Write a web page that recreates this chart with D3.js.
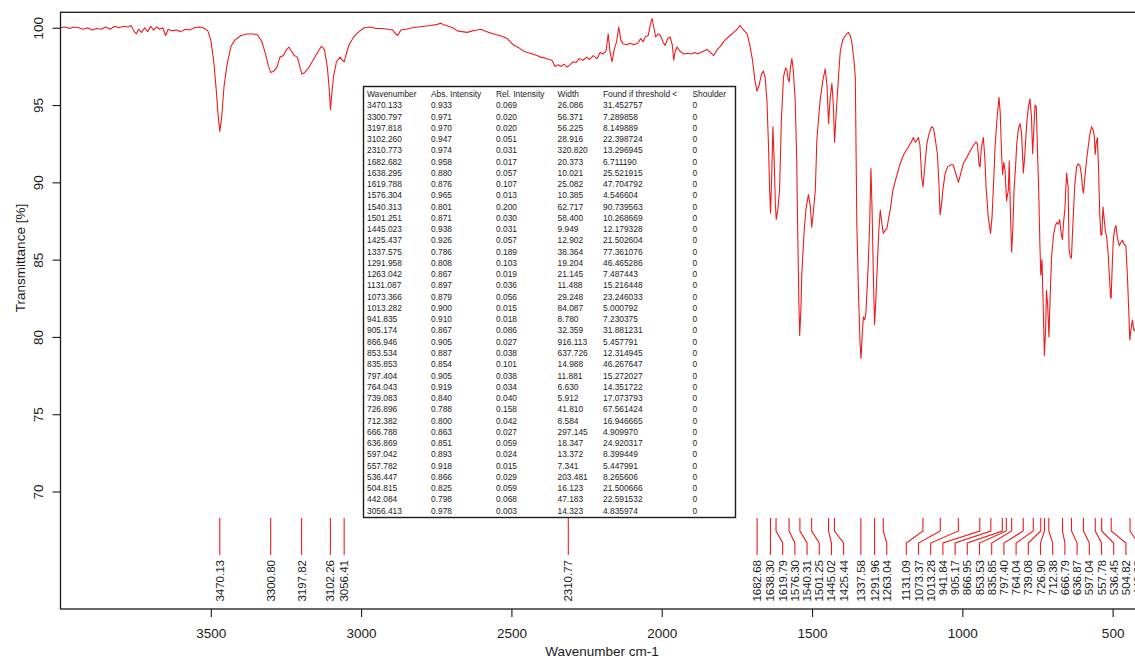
<!DOCTYPE html>
<html>
<head>
<meta charset="utf-8">
<script src="https://cdn.jsdelivr.net/npm/d3@7"></script>
<style>
  html, body { margin: 0; padding: 0; background: #fff; }
  svg { display: block; font-family: "Liberation Sans", Arial, Helvetica, sans-serif; }
</style>
</head>
<body>
<svg id="chart" width="1135" height="661"></svg>
<script>
// ---- IR spectrum: wavenumber (cm-1) and transmittance (%) ----
const wavenumber = [
  4000, 3985, 3970, 3955, 3940, 3925, 3910, 3895, 3880, 3865, 3850, 3835, 3820, 3805, 3790, 3775, 3765, 3755, 3748, 3740,
  3730, 3720, 3710, 3700, 3690, 3680, 3670, 3660, 3650, 3642, 3630, 3615, 3600, 3585, 3570, 3555, 3540, 3525, 3510, 3500,
  3490, 3482, 3476, 3470, 3464, 3456, 3446, 3433, 3420, 3400, 3380, 3360, 3345, 3330, 3318, 3308, 3300, 3290, 3280, 3270,
  3258, 3248, 3240, 3232, 3222, 3212, 3204, 3197, 3188, 3175, 3160, 3145, 3132, 3122, 3112, 3106, 3102, 3098, 3092, 3082,
  3070, 3062, 3056, 3048, 3040, 3025, 3010, 2990, 2970, 2950, 2930, 2910, 2895, 2885, 2878, 2868, 2850, 2830, 2810, 2790,
  2770, 2750, 2735, 2725, 2710, 2695, 2680, 2665, 2647, 2630, 2615, 2602, 2590, 2575, 2558, 2540, 2525, 2514, 2500, 2490,
  2475, 2460, 2447, 2430, 2415, 2403, 2390, 2375, 2365, 2355, 2345, 2335, 2325, 2315, 2305, 2295, 2285, 2275, 2262, 2250,
  2240, 2228, 2215, 2205, 2195, 2185, 2178, 2172, 2165, 2158, 2150, 2143, 2136, 2128, 2115, 2105, 2093, 2080, 2070, 2062,
  2055, 2045, 2038, 2032, 2026, 2020, 2012, 2004, 1996, 1989, 1980, 1972, 1965, 1960, 1955, 1949, 1940, 1927, 1915, 1900,
  1890, 1880, 1871, 1860, 1849, 1838, 1827, 1815, 1805, 1790, 1772, 1755, 1745, 1739, 1732, 1725, 1716, 1706, 1698, 1690,
  1683, 1676, 1668, 1662, 1656, 1650, 1645, 1641, 1638, 1634, 1630, 1626, 1622, 1619, 1614, 1608, 1602, 1595, 1588, 1584,
  1580, 1576, 1572, 1567, 1562, 1556, 1551, 1548, 1544, 1541, 1537, 1534, 1530, 1526, 1520, 1512, 1506, 1501, 1496, 1489,
  1484, 1478, 1473, 1465, 1456, 1450, 1445, 1440, 1434, 1429, 1425, 1419, 1412, 1406, 1398, 1392, 1385, 1379, 1373, 1367,
  1360, 1356, 1351, 1345, 1340, 1337, 1333, 1329, 1325, 1321, 1316, 1312, 1308, 1304, 1300, 1296, 1292, 1288, 1284, 1278,
  1273, 1268, 1263, 1257, 1251, 1245, 1240, 1231, 1220, 1207, 1195, 1179, 1170, 1163, 1157, 1152, 1146, 1141, 1135, 1131,
  1126, 1118, 1110, 1102, 1096, 1090, 1083, 1078, 1074, 1069, 1065, 1057, 1049, 1041, 1035, 1030, 1022, 1013, 1005, 997,
  985, 975, 963, 955, 950, 944, 941, 937, 930, 925, 921, 914, 906, 901, 897, 891, 885, 878, 874, 869,
  866, 862, 858, 853, 847, 844, 840, 836, 832, 828, 823, 819, 813, 808, 803, 799, 797, 792, 786, 780,
  775, 770, 766, 762, 758, 754, 750, 746, 742, 739, 735, 731, 727, 723, 720, 716, 712, 708, 703, 697,
  692, 686, 681, 676, 672, 667, 663, 659, 656, 653, 650, 648, 645, 641, 637, 634, 631, 626, 620, 615,
  609, 604, 600, 597, 593, 587, 580, 575, 570, 565, 561, 558, 555, 551, 547, 543, 539, 536, 532, 528,
  524, 520, 515, 511, 507, 505, 502, 498, 493, 489, 484, 478, 473, 467, 462, 456, 451, 446, 443, 438,
  434, 430, 427, 420, 410, 400
];
const transmittance = [
  100.0, 100.05, 99.95, 100.05, 100.0, 99.9, 100.0, 99.85, 99.95, 99.9, 100.05, 99.9, 100.1, 100.0, 100.1, 100.05, 100.15, 99.75, 99.6, 99.9,
  99.7, 100.0, 99.75, 100.1, 99.85, 100.05, 99.9, 100.0, 99.5, 99.9, 99.8, 99.85, 99.75, 99.9, 99.85, 100.0, 100.05, 100.0, 99.8, 99.2,
  97.8, 96.0, 94.4, 93.3, 94.2, 96.2, 97.6, 98.8, 99.2, 99.5, 99.6, 99.6, 99.55, 99.1, 98.3, 97.5, 97.1, 97.2, 97.45, 98.1,
  98.2, 98.6, 98.75, 98.5, 98.2, 98.1, 97.5, 97.0, 97.1, 97.4, 97.9, 98.4, 98.8, 98.6, 97.4, 96.0, 94.7, 95.6, 96.8, 97.8,
  98.1, 97.9, 97.8, 98.4, 98.9, 99.4, 99.7, 100.0, 100.05, 99.95, 99.95, 99.9, 99.85, 99.6, 99.5, 99.85, 99.9, 100.0, 100.05, 100.1,
  100.15, 100.2, 100.3, 100.2, 100.1, 100.0, 99.8, 99.75, 99.7, 99.8, 99.85, 99.9, 99.8, 99.7, 99.6, 99.5, 99.4, 99.3, 99.0, 98.85,
  98.7, 98.5, 98.4, 98.3, 98.2, 98.1, 98.05, 97.95, 97.9, 97.5, 97.6, 97.5, 97.65, 97.45, 97.6, 97.8, 97.75, 98.0, 97.9, 98.1,
  97.95, 98.2, 98.0, 98.4, 98.3, 98.5, 99.6, 98.4, 97.8, 98.6, 99.1, 100.05, 99.2, 98.95, 98.9, 99.0, 98.9, 99.0, 99.3, 99.1,
  99.4, 99.5, 100.2, 100.6, 100.0, 99.4, 99.6, 99.5, 99.1, 98.85, 99.3, 99.4, 98.9, 97.9, 98.5, 98.75, 98.5, 98.3, 98.35, 98.3,
  98.4, 98.3, 98.4, 98.5, 98.6, 98.4, 98.2, 98.6, 98.8, 99.2, 99.5, 99.8, 100.0, 100.15, 99.95, 99.8, 99.6, 98.8, 97.9, 96.6,
  95.9, 96.3, 97.0, 97.2, 96.8, 95.3, 92.5, 89.5, 88.0, 90.5, 93.6, 91.5, 88.6, 87.6, 88.2, 89.5, 94.0, 96.8, 97.4, 97.3,
  96.7, 96.5, 97.4, 98.0, 97.2, 95.3, 91.5, 87.3, 82.5, 80.1, 81.8, 84.1, 85.5, 86.9, 88.3, 89.2, 88.5, 87.1, 88.0, 89.5,
  92.7, 94.2, 95.3, 96.5, 97.35, 96.2, 93.8, 95.4, 96.4, 95.0, 92.6, 94.7, 96.8, 98.5, 99.2, 99.4, 99.6, 99.7, 99.5, 99.0,
  97.8, 96.8, 87.3, 82.5, 79.5, 78.6, 80.2, 81.3, 81.1, 81.5, 83.4, 85.2, 87.5, 90.9, 88.0, 84.0, 80.8, 82.3, 84.1, 86.8,
  88.2, 87.4, 86.7, 86.9, 87.0, 87.7, 88.2, 89.5, 90.3, 91.2, 91.8, 92.3, 92.6, 92.9, 92.6, 92.7, 92.9, 92.4, 90.3, 89.7,
  90.8, 92.5, 93.2, 93.6, 93.5, 92.8, 91.85, 90.0, 87.9, 88.6, 89.5, 90.6, 91.0, 91.1, 91.15, 91.1, 90.6, 90.0, 90.6, 91.2,
  91.6, 92.0, 92.4, 92.6, 92.5, 91.1, 91.0, 92.2, 92.9, 91.5, 89.7, 87.8, 86.7, 87.8, 89.5, 92.3, 94.0, 95.5, 94.5, 91.6,
  90.5, 91.3, 90.8, 88.8, 89.5, 91.4, 88.0, 85.5, 87.0, 89.5, 91.0, 92.5, 93.5, 93.8, 93.2, 91.5, 90.6, 91.8, 93.8, 94.9,
  95.4, 94.2, 91.85, 93.5, 95.0, 94.9, 92.0, 89.5, 86.0, 84.0, 85.0, 82.0, 78.8, 80.5, 83.0, 82.0, 80.0, 82.5, 85.2, 86.5,
  87.1, 87.4, 87.3, 87.6, 86.8, 86.3, 87.5, 88.2, 89.5, 90.6, 90.0, 89.7, 85.7, 85.2, 85.1, 86.5, 87.8, 89.8, 91.0, 91.2,
  91.1, 90.5, 89.6, 89.3, 90.2, 91.4, 92.5, 93.2, 93.6, 93.4, 93.0, 91.8, 92.5, 92.9, 91.0, 88.0, 86.6, 86.6, 88.4, 87.6,
  86.8, 86.5, 85.4, 84.0, 82.6, 82.5, 84.2, 86.25, 87.0, 87.2, 86.4, 85.9, 86.1, 86.25, 86.0, 85.9, 84.0, 81.5, 79.8, 80.6,
  81.1, 80.5, 80.4, 80.8, 81.0, 80.9
];

// ---- Peak table columns ----
const peakWavenumber = [3470.133, 3300.797, 3197.818, 3102.260, 2310.773, 1682.682, 1638.295, 1619.788, 1576.304, 1540.313,
  1501.251, 1445.023, 1425.437, 1337.575, 1291.958, 1263.042, 1131.087, 1073.366, 1013.282, 941.835,
  905.174, 866.946, 853.534, 835.853, 797.404, 764.043, 739.083, 726.896, 712.382, 666.788,
  636.869, 597.042, 557.782, 536.447, 504.815, 442.084, 3056.413];
const absIntensity = [0.933, 0.971, 0.970, 0.947, 0.974, 0.958, 0.880, 0.876, 0.965, 0.801,
  0.871, 0.938, 0.926, 0.786, 0.808, 0.867, 0.897, 0.879, 0.900, 0.910,
  0.867, 0.905, 0.887, 0.854, 0.905, 0.919, 0.840, 0.788, 0.800, 0.863,
  0.851, 0.893, 0.918, 0.866, 0.825, 0.798, 0.978];
const relIntensity = [0.069, 0.020, 0.020, 0.051, 0.031, 0.017, 0.057, 0.107, 0.013, 0.200,
  0.030, 0.031, 0.057, 0.189, 0.103, 0.019, 0.036, 0.056, 0.015, 0.018,
  0.086, 0.027, 0.038, 0.101, 0.038, 0.034, 0.040, 0.158, 0.042, 0.027,
  0.059, 0.024, 0.015, 0.029, 0.059, 0.068, 0.003];
const peakWidth = [26.086, 56.371, 56.225, 28.916, 320.820, 20.373, 10.021, 25.082, 10.385, 62.717,
  58.400, 9.949, 12.902, 38.364, 19.204, 21.145, 11.488, 29.248, 84.087, 8.780,
  32.359, 916.113, 637.726, 14.988, 11.881, 6.630, 5.912, 41.810, 8.584, 297.145,
  18.347, 13.372, 7.341, 203.481, 16.123, 47.183, 14.323];
const foundThreshold = [31.452757, 7.289858, 8.149889, 22.398724, 13.296945, 6.711190, 25.521915, 47.704792, 4.546604, 90.739563,
  10.268669, 12.179328, 21.502604, 77.361076, 46.465286, 7.487443, 15.216448, 23.246033, 5.000792, 7.230375,
  31.881231, 5.457791, 12.314945, 46.267647, 15.272027, 14.351722, 17.073793, 67.561424, 16.946665, 4.909970,
  24.920317, 8.399449, 5.447991, 8.265606, 21.500666, 22.591532, 4.835974];
const shoulder = [0, 0, 0, 0, 0, 0, 0, 0, 0, 0, 0, 0, 0, 0, 0, 0, 0, 0, 0, 0,
  0, 0, 0, 0, 0, 0, 0, 0, 0, 0, 0, 0, 0, 0, 0, 0, 0];
const tableHeaders = ["Wavenumber", "Abs. Intensity", "Rel. Intensity", "Width", "Found if threshold <", "Shoulder"];

// ---- Axis ticks ----
const xTicks = [3500, 3000, 2500, 2000, 1500, 1000, 500];
const yTicks = [70, 75, 80, 85, 90, 95, 100];

// ---- Layout ----
const svg = d3.select("#chart");
const plot = { left: 60.5, right: 1142.7, top: 12.3, bottom: 609 };
const x = d3.scaleLinear().domain([4000, 400]).range([plot.left, plot.right]);
const y = d3.scaleLinear().domain([62.4, 101.0]).range([plot.bottom, plot.top]);
const red = "#ee1c1c";
const ink = "#1a1a1a";

// Half-up rounding to two decimals (avoids binary float artefacts such as 504.815 -> 504.81)
const fmt2 = v => (Math.round(v * 100 + 1e-6) / 100).toFixed(2);

svg.append("defs").append("clipPath").attr("id", "plotClip")
  .append("rect").attr("x", plot.left).attr("y", plot.top)
  .attr("width", plot.right - plot.left).attr("height", plot.bottom - plot.top);

// Spectrum trace
const pts = wavenumber.map((w, i) => [w, transmittance[i]]);
svg.append("path")
  .datum(pts)
  .attr("clip-path", "url(#plotClip)")
  .attr("fill", "none")
  .attr("stroke", red)
  .attr("stroke-width", 1.1)
  .attr("stroke-linejoin", "round")
  .attr("d", d3.line().x(d => x(d[0])).y(d => y(d[1])));

// Plot frame
svg.append("rect")
  .attr("x", plot.left).attr("y", plot.top)
  .attr("width", plot.right - plot.left).attr("height", plot.bottom - plot.top)
  .attr("fill", "none").attr("stroke", ink).attr("stroke-width", 1.3);

// X axis
const xAxis = d3.axisBottom(x).tickValues(xTicks).tickSize(8).tickPadding(11).tickFormat(d3.format("d"));
const gx = svg.append("g").attr("transform", `translate(0,${plot.bottom})`).call(xAxis);
gx.select(".domain").remove();
gx.selectAll("line").attr("stroke", ink).attr("stroke-width", 1.1);
gx.selectAll("text").attr("fill", ink).style("font-size", "13.5px").style("font-family", "Liberation Sans, Arial, sans-serif");

// Y axis with vertical tick labels
const yAxis = d3.axisLeft(y).tickValues(yTicks).tickSize(8).tickFormat(d3.format("d"));
const gy = svg.append("g").attr("transform", `translate(${plot.left},0)`).call(yAxis);
gy.select(".domain").remove();
gy.selectAll("line").attr("stroke", ink).attr("stroke-width", 1.1);
gy.selectAll("text")
  .attr("x", null).attr("dy", null)
  .attr("transform", "translate(-22,0) rotate(-90)")
  .attr("text-anchor", "middle")
  .attr("dominant-baseline", "central")
  .attr("fill", ink).style("font-size", "13.5px").style("font-family", "Liberation Sans, Arial, sans-serif");

// Axis titles
svg.append("text").attr("x", 602).attr("y", 656).attr("text-anchor", "middle")
  .attr("fill", ink).style("font-size", "13.5px").text("Wavenumber cm-1");
svg.append("text").attr("transform", "translate(20,258) rotate(-90)").attr("text-anchor", "middle")
  .attr("dominant-baseline", "central")
  .attr("fill", ink).style("font-size", "13.5px").text("Transmittance [%]");

// Peak markers with spread labels
const minGap = 12.2;
const labelMaxX = plot.right - 4.6;
const order = d3.range(peakWavenumber.length).sort((a, b) => x(peakWavenumber[a]) - x(peakWavenumber[b]));
const labelX = new Array(peakWavenumber.length);
let prev = -Infinity;
order.forEach(i => { const px = Math.max(x(peakWavenumber[i]), prev + minGap); labelX[i] = px; prev = px; });
let next = labelMaxX + minGap;
order.slice().reverse().forEach(i => { const px = Math.min(labelX[i], next - minGap); labelX[i] = px; next = px; });

const yTop = 518, yBend1 = 531, yBend2 = 543, yBottom = 555;
const markers = svg.append("g");
peakWavenumber.forEach((w, i) => {
  const px = x(w), lx = labelX[i];
  markers.append("path")
    .attr("fill", "none").attr("stroke", red).attr("stroke-width", 1.1)
    .attr("d", `M${px},${yTop}L${px},${yBend1}L${lx},${yBend2}L${lx},${yBottom}`);
  markers.append("text")
    .attr("transform", `translate(${lx},${yBottom + 5}) rotate(-90)`)
    .attr("text-anchor", "end").attr("dominant-baseline", "central")
    .attr("fill", ink).style("font-size", "11.5px")
    .text(fmt2(w));
});

// Peak table
const tbl = { x: 363.5, y: 86.5, w: 372, h: 431 };
const colX = [367, 431, 496, 557.5, 603, 692.5];
const rowY0 = 97, rowStep = 11.26;
const tg = svg.append("g");
tg.append("rect").attr("x", tbl.x).attr("y", tbl.y).attr("width", tbl.w).attr("height", tbl.h)
  .attr("fill", "#fff").attr("stroke", ink).attr("stroke-width", 1.4);
const rows = [tableHeaders].concat(peakWavenumber.map((w, i) => [
  w.toFixed(3), absIntensity[i].toFixed(3), relIntensity[i].toFixed(3),
  peakWidth[i].toFixed(3), foundThreshold[i].toFixed(6), String(shoulder[i])
]));
rows.forEach((r, ri) => {
  r.forEach((cell, ci) => {
    tg.append("text").attr("x", colX[ci]).attr("y", rowY0 + ri * rowStep)
      .attr("fill", ink).style("font-size", "8.4px").text(cell);
  });
});
</script>
</body>
</html>
